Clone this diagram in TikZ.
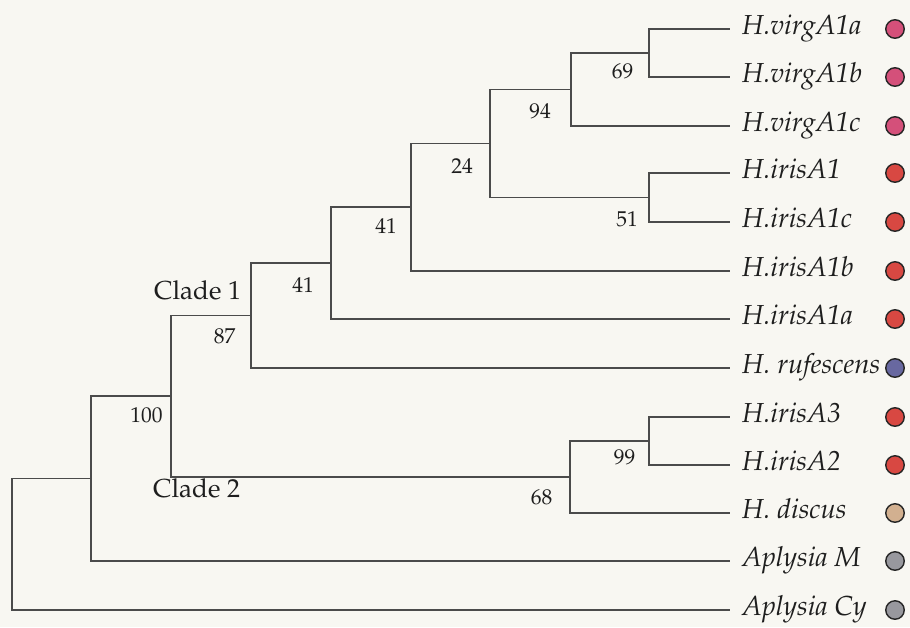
\documentclass[tikz,border=0pt]{standalone}
\usepackage[T1]{fontenc}
\usepackage{mathpazo}
\definecolor{bg}{RGB}{248,247,242}
\definecolor{ln}{RGB}{75,75,75}
\definecolor{tx}{RGB}{30,30,30}
\definecolor{cpink}{RGB}{212,80,122}
\definecolor{cred}{RGB}{216,72,66}
\definecolor{cblue}{RGB}{104,104,160}
\definecolor{ctan}{RGB}{210,176,144}
\definecolor{cgray}{RGB}{152,152,158}
\begin{document}
\begin{tikzpicture}[x=1pt,y=-1pt,
  branch/.style={draw=ln, line width=1.1pt},
  taxon/.style={anchor=base west, inner sep=0pt, text=tx, font=\fontsize{27.5}{30}\selectfont\itshape},
  boot/.style={anchor=center, inner sep=0pt, text=tx, font=\fontsize{21.5}{24}\selectfont},
  cladelab/.style={anchor=base west, inner sep=0pt, text=tx, font=\fontsize{26}{30}\selectfont},
  dot/.style={circle, draw=black!85, line width=1.4pt, minimum size=18.5pt, inner sep=0pt}]
\fill[bg] (0,0) rectangle (910,627);
\useasboundingbox (0,0) rectangle (910,627);

% leaf tips, labels, dots
\foreach \i/\y/\lab/\col in {
  1/29/{H.virgA1a}/cpink, 2/77/{H.virgA1b}/cpink, 3/126/{H.virgA1c}/cpink,
  4/173/{H.irisA1}/cred, 5/222/{H.irisA1c}/cred, 6/271/{H.irisA1b}/cred,
  7/319/{H.irisA1a}/cred, 8/368/{H. rufescens}/cblue, 9/417/{H.irisA3}/cred,
  10/465/{H.irisA2}/cred, 11/513/{H. discus}/ctan, 12/561/{Aplysia M}/cgray,
  13/610/{Aplysia Cy}/cgray}{
  \coordinate (t\i) at (730,\y);
  \node[taxon] (lab\i) at (742,\y+5) {\lab};
  \node[dot, fill=\col] (dot\i) at (895,\y) {};
}

% internal nodes
\coordinate (A) at (649,53);
\coordinate (B) at (571,89.5);
\coordinate (C) at (649,197.5);
\coordinate (D) at (490,143.5);
\coordinate (E) at (411,207);
\coordinate (F) at (331,263);
\coordinate (G) at (251,315.5);
\coordinate (H) at (649,441);
\coordinate (I) at (570,477);
\coordinate (J) at (171,396);
\coordinate (K) at (91,478.5);
\coordinate (R) at (12,544);

\draw[branch] (A) |- (t1);
\draw[branch] (A) |- (t2);
\draw[branch] (B) |- (A);
\draw[branch] (B) |- (t3);
\draw[branch] (C) |- (t4);
\draw[branch] (C) |- (t5);
\draw[branch] (D) |- (B);
\draw[branch] (D) |- (C);
\draw[branch] (E) |- (D);
\draw[branch] (E) |- (t6);
\draw[branch] (F) |- (E);
\draw[branch] (F) |- (t7);
\draw[branch] (G) |- (F);
\draw[branch] (G) |- (t8);
\draw[branch] (H) |- (t9);
\draw[branch] (H) |- (t10);
\draw[branch] (I) |- (H);
\draw[branch] (I) |- (t11);
\draw[branch] (J) |- (G);
\draw[branch] (J) |- (I);
\draw[branch] (K) |- (J);
\draw[branch] (K) |- (t12);
\draw[branch] (R) |- (K);
\draw[branch] (R) |- (t13);

% support values
\node[boot] (b69) at (622.5,71.5) {69};
\node[boot] (b94) at (540,111) {94};
\node[boot] (b51) at (627,219) {51};
\node[boot] (b24) at (462,166) {24};
\node[boot] (b41u) at (386,226) {41};
\node[boot] (b41l) at (303,285) {41};
\node[boot] (b87) at (224.5,336) {87};
\node[boot] (b100) at (146.5,415.5) {100};
\node[boot] (b68) at (541.5,497) {68};
\node[boot] (b99) at (624.5,457.5) {99};

% clade labels
\node[cladelab] (c1) at (154,299) {Clade 1};
\node[cladelab] (c2) at (153,497) {Clade 2};
\end{tikzpicture}
\end{document}
